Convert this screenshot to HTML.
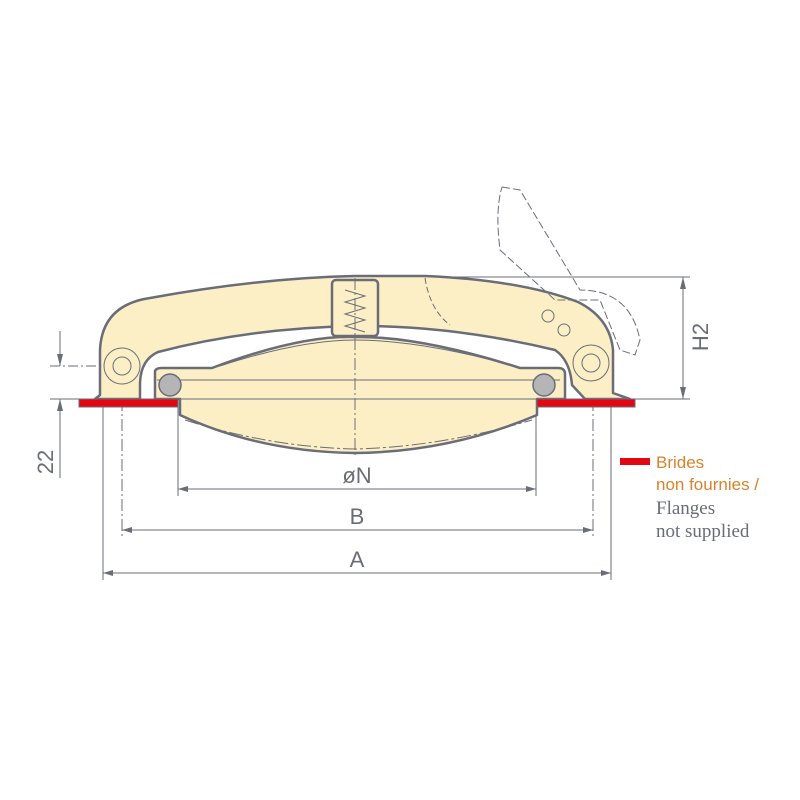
<!DOCTYPE html>
<html><head><meta charset="utf-8"><style>
html,body{margin:0;padding:0;background:#fff;}
svg{display:block;}
</style></head><body>
<svg width="800" height="800" viewBox="0 0 800 800" xmlns="http://www.w3.org/2000/svg">
<g stroke="#6a6d78" fill="none" stroke-width="1">
  <!-- dimension extension lines -->
  <line x1="50" y1="399" x2="690" y2="399"/>
  <line x1="50" y1="366" x2="112" y2="366" stroke-dasharray="10,3,2,3"/>
  <line x1="425" y1="277" x2="690" y2="277"/>
  <line x1="103" y1="399" x2="103" y2="580"/>
  <line x1="611" y1="399" x2="611" y2="580"/>
  <line x1="122" y1="399" x2="122" y2="537" stroke-dasharray="12,3,2,3"/>
  <line x1="593" y1="399" x2="593" y2="537" stroke-dasharray="12,3,2,3"/>
  <line x1="178" y1="407" x2="178" y2="496"/>
  <line x1="536" y1="407" x2="536" y2="496"/>
  <!-- dimension lines -->
  <line x1="178" y1="489" x2="536" y2="489"/>
  <line x1="122" y1="530" x2="593" y2="530"/>
  <line x1="103" y1="573" x2="611" y2="573"/>
  <line x1="683" y1="277" x2="683" y2="399"/>
  <line x1="60" y1="331" x2="60" y2="366"/>
  <line x1="60" y1="399" x2="60" y2="478"/>
</g>
<g fill="#6a6d78">
  <polygon points="178,489 188,486 188,492"/><polygon points="536,489 526,486 526,492"/>
  <polygon points="122,530 132,527 132,533"/><polygon points="593,530 583,527 583,533"/>
  <polygon points="103,573 113,570 113,576"/><polygon points="611,573 601,570 601,576"/>
  <polygon points="683,277 680,289 686,289"/><polygon points="683,399 680,387 686,387"/>
  <polygon points="60,366 57,354 63,354"/><polygon points="60,399 57,411 63,411"/>
</g>
<!-- body -->
<g stroke="#6a6d78" stroke-width="2.5" fill="#fcefc6" stroke-linejoin="round">
  <!-- yoke -->
  <path d="M100,395 L100,350 Q102,305 150,298 Q260,278 355,276 L425,276 Q520,280 578,302 Q610,318 613,350 L613,393 L630,399 L585,399 L572,385 Q570,360 555,350 Q450,325 355,326 Q250,328 158,352 Q140,360 140,385 L140,399 L95,399 Z"/>
  <!-- lid -->
  <path d="M155,372 Q155,368 162,368 L212,368 Q300,335 355,337 Q420,336 520,368 L558,368 Q565,368 565,374 L565,399 L537,399 L537,415 Q450,452 355,453 Q260,452 180,415 L180,399 L155,399 Z"/>
  <rect x="332" y="280" width="46" height="56" rx="4"/>
</g>
<g stroke="#6a6d78" fill="none" stroke-width="1">
  <line x1="157" y1="380" x2="560" y2="380"/>
  <line x1="157" y1="399" x2="560" y2="399"/>
  <line x1="355" y1="278" x2="355" y2="455" stroke-dasharray="12,3,2,3"/>
  <path d="M185,420 Q270,447 355,449 Q440,447 532,420" stroke-dasharray="14,3,3,3"/>
  <path d="M220,366 Q300,340 355,340 Q420,340 515,366"/>
  <polyline points="345,290 365,296 345,302 365,308 345,314 365,320 345,326 365,332" />
  <circle cx="122" cy="366" r="18"/><circle cx="122" cy="366" r="9"/>
  <circle cx="591" cy="363" r="18"/><circle cx="591" cy="363" r="9"/>
  <circle cx="548" cy="316" r="6"/><circle cx="564" cy="330" r="6"/>
  <path d="M502,187 L520,190 L580,290 Q630,290 640,340 L635,355 L620,350 L600,300 L555,300 L500,250 Q495,210 502,187" stroke-dasharray="8,3"/>
  <path d="M425,278 Q430,310 450,325" stroke-dasharray="6,3"/>
</g>
<!-- gaskets -->
<circle cx="170" cy="385" r="11" fill="#b5b5b7" stroke="#6a6d78" stroke-width="1.5"/>
<circle cx="544" cy="385" r="11" fill="#b5b5b7" stroke="#6a6d78" stroke-width="1.5"/>
<!-- flanges -->
<rect x="79" y="399" width="99" height="8" fill="#e30613" stroke="#6a6d78" stroke-width="1"/>
<rect x="537" y="399" width="98" height="8" fill="#e30613" stroke="#6a6d78" stroke-width="1"/>
<!-- labels -->
<g font-family="Liberation Sans, sans-serif" font-size="22" fill="#6a6d78">
  <text x="357" y="483" text-anchor="middle">øN</text>
  <text x="357" y="524" text-anchor="middle">B</text>
  <text x="357" y="567" text-anchor="middle">A</text>
  <text transform="translate(708,337) rotate(-90)" text-anchor="middle">H2</text>
  <text transform="translate(53,462) rotate(-90)" text-anchor="middle">22</text>
</g>
<rect x="620" y="458" width="30" height="7" fill="#e30613"/>
<g font-family="Liberation Sans, sans-serif" font-size="17" fill="#d9822b">
  <text x="656" y="468">Brides</text>
  <text x="656" y="490">non fournies /</text>
</g>
<g font-family="Liberation Serif, serif" font-size="19" fill="#6a6d78">
  <text x="656" y="514">Flanges</text>
  <text x="656" y="537">not supplied</text>
</g>
</svg>
</body></html>
